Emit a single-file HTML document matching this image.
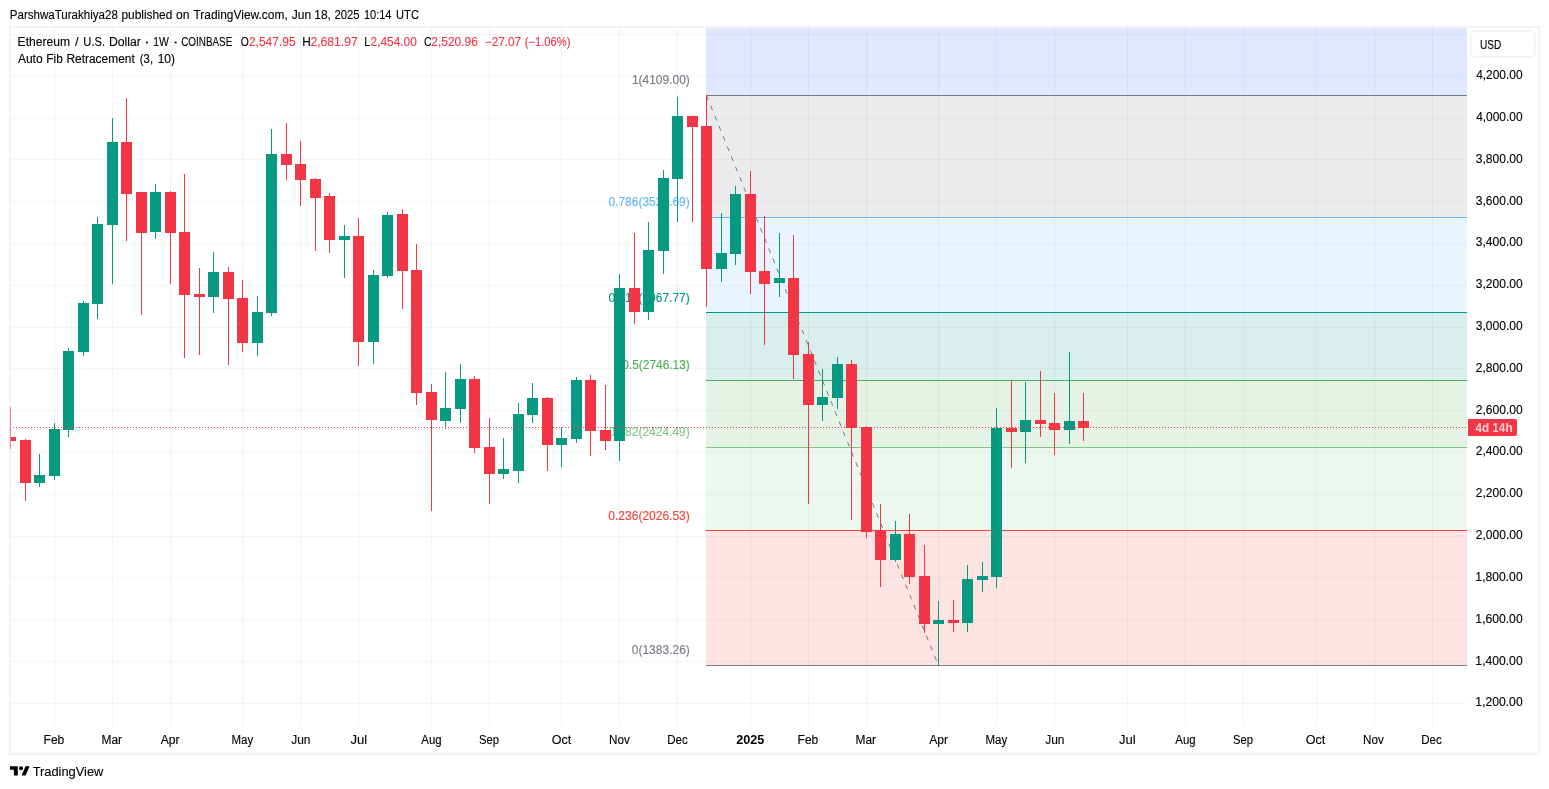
<!DOCTYPE html>
<html lang="en"><head><meta charset="utf-8"><title>ETHUSD chart</title>
<style>html,body{margin:0;padding:0;background:#fff}body{width:1549px;height:789px;overflow:hidden;position:relative}svg{position:absolute;left:0;top:0;display:block}text{font-family:"Liberation Sans", sans-serif;font-size:12px;fill:#000;stroke:#000;stroke-width:0.12px}</style>
</head><body>
<svg width="1549" height="789" viewBox="0 0 1549 789">
<rect x="0" y="0" width="1549" height="789" fill="#fff"/>
<rect x="10" y="27" width="1529" height="727" fill="none" stroke="#f3f3f3" stroke-width="2"/>
<g fill="#000" fill-opacity="0.04" shape-rendering="crispEdges">
<rect x="11" y="34" width="1456" height="1"/>
<rect x="11" y="76" width="1456" height="1"/>
<rect x="11" y="118" width="1456" height="1"/>
<rect x="11" y="159" width="1456" height="1"/>
<rect x="11" y="201" width="1456" height="1"/>
<rect x="11" y="243" width="1456" height="1"/>
<rect x="11" y="285" width="1456" height="1"/>
<rect x="11" y="327" width="1456" height="1"/>
<rect x="11" y="368" width="1456" height="1"/>
<rect x="11" y="410" width="1456" height="1"/>
<rect x="11" y="452" width="1456" height="1"/>
<rect x="11" y="494" width="1456" height="1"/>
<rect x="11" y="536" width="1456" height="1"/>
<rect x="11" y="577" width="1456" height="1"/>
<rect x="11" y="619" width="1456" height="1"/>
<rect x="11" y="661" width="1456" height="1"/>
<rect x="11" y="703" width="1456" height="1"/>
</g>
<g fill="#000" fill-opacity="0.05" shape-rendering="crispEdges">
<rect x="54" y="28" width="1" height="698"/>
<rect x="112" y="28" width="1" height="698"/>
<rect x="170" y="28" width="1" height="698"/>
<rect x="242" y="28" width="1" height="698"/>
<rect x="300" y="28" width="1" height="698"/>
<rect x="358" y="28" width="1" height="698"/>
<rect x="431" y="28" width="1" height="698"/>
<rect x="489" y="28" width="1" height="698"/>
<rect x="561" y="28" width="1" height="698"/>
<rect x="619" y="28" width="1" height="698"/>
<rect x="677" y="28" width="1" height="698"/>
<rect x="750" y="28" width="1" height="698"/>
<rect x="808" y="28" width="1" height="698"/>
<rect x="866" y="28" width="1" height="698"/>
<rect x="938" y="28" width="1" height="698"/>
<rect x="996" y="28" width="1" height="698"/>
<rect x="1054" y="28" width="1" height="698"/>
<rect x="1127" y="28" width="1" height="698"/>
<rect x="1185" y="28" width="1" height="698"/>
<rect x="1243" y="28" width="1" height="698"/>
<rect x="1316" y="28" width="1" height="698"/>
<rect x="1374" y="28" width="1" height="698"/>
<rect x="1432" y="28" width="1" height="698"/>
</g>
<g shape-rendering="crispEdges">
<rect x="706" y="28" width="761" height="67" fill="#2962ff" fill-opacity="0.15"/>
<rect x="706" y="95" width="761" height="122" fill="#787b86" fill-opacity="0.15"/>
<rect x="706" y="217" width="761" height="95" fill="#64b5f6" fill-opacity="0.15"/>
<rect x="706" y="312" width="761" height="68" fill="#009688" fill-opacity="0.15"/>
<rect x="706" y="380" width="761" height="67" fill="#4caf50" fill-opacity="0.15"/>
<rect x="706" y="447" width="761" height="83" fill="#81c784" fill-opacity="0.15"/>
<rect x="706" y="530" width="761" height="135" fill="#f44336" fill-opacity="0.15"/>
<rect x="706" y="95" width="761" height="1" fill="#787b86"/>
<rect x="706" y="217" width="761" height="1" fill="#64b5f6"/>
<rect x="706" y="312" width="761" height="1" fill="#009688"/>
<rect x="706" y="380" width="761" height="1" fill="#4caf50"/>
<rect x="706" y="447" width="761" height="1" fill="#81c784"/>
<rect x="706" y="530" width="761" height="1" fill="#f44336"/>
<rect x="706" y="665" width="761" height="1" fill="#787b86"/>
</g>
<text x="631.90" y="83.8" textLength="57.94" lengthAdjust="spacingAndGlyphs" style="fill:#787b86;stroke:#787b86">1(4109.00)</text>
<text x="608.46" y="205.9" textLength="81.32" lengthAdjust="spacingAndGlyphs" style="fill:#64b5f6;stroke:#64b5f6">0.786(3525.69)</text>
<text x="608.46" y="301.9" textLength="81.32" lengthAdjust="spacingAndGlyphs" style="fill:#009688;stroke:#009688">0.618(3067.77)</text>
<text x="622.26" y="368.8" textLength="67.59" lengthAdjust="spacingAndGlyphs" style="fill:#4caf50;stroke:#4caf50">0.5(2746.13)</text>
<text x="608.46" y="435.9" textLength="81.32" lengthAdjust="spacingAndGlyphs" style="fill:#81c784;stroke:#81c784">0.382(2424.49)</text>
<text x="608.36" y="520.2" textLength="81.42" lengthAdjust="spacingAndGlyphs" style="fill:#f44336;stroke:#f44336">0.236(2026.53)</text>
<text x="631.76" y="653.8" textLength="58.08" lengthAdjust="spacingAndGlyphs" style="fill:#787b86;stroke:#787b86">0(1383.26)</text>
<line x1="706.5" y1="95.5" x2="938.5" y2="665.5" stroke="#787b86" stroke-width="1" stroke-dasharray="5 6"/>
<g shape-rendering="crispEdges">
<rect x="10" y="407" width="1" height="42" fill="#f23645" fill-opacity="0.6"/>
<rect x="11" y="437" width="5" height="4" fill="#f23645"/>
<rect x="25" y="439" width="1" height="62" fill="#f23645"/>
<rect x="20" y="440" width="11" height="43" fill="#f23645"/>
<rect x="39" y="454" width="1" height="33" fill="#089981"/>
<rect x="34" y="475" width="11" height="8" fill="#089981"/>
<rect x="54" y="423" width="1" height="57" fill="#089981"/>
<rect x="49" y="429" width="11" height="47" fill="#089981"/>
<rect x="68" y="348" width="1" height="89" fill="#089981"/>
<rect x="63" y="351" width="11" height="79" fill="#089981"/>
<rect x="83" y="301" width="1" height="55" fill="#089981"/>
<rect x="78" y="303" width="11" height="49" fill="#089981"/>
<rect x="97" y="217" width="1" height="102" fill="#089981"/>
<rect x="92" y="224" width="11" height="80" fill="#089981"/>
<rect x="112" y="118" width="1" height="166" fill="#089981"/>
<rect x="107" y="142" width="11" height="83" fill="#089981"/>
<rect x="126" y="98" width="1" height="143" fill="#f23645"/>
<rect x="121" y="142" width="11" height="52" fill="#f23645"/>
<rect x="141" y="192" width="1" height="123" fill="#f23645"/>
<rect x="136" y="192" width="11" height="41" fill="#f23645"/>
<rect x="155" y="184" width="1" height="55" fill="#089981"/>
<rect x="150" y="192" width="11" height="40" fill="#089981"/>
<rect x="170" y="191" width="1" height="93" fill="#f23645"/>
<rect x="165" y="192" width="11" height="41" fill="#f23645"/>
<rect x="184" y="174" width="1" height="184" fill="#f23645"/>
<rect x="179" y="232" width="11" height="63" fill="#f23645"/>
<rect x="199" y="268" width="1" height="87" fill="#f23645"/>
<rect x="194" y="294" width="11" height="3" fill="#f23645"/>
<rect x="213" y="252" width="1" height="61" fill="#089981"/>
<rect x="208" y="272" width="11" height="25" fill="#089981"/>
<rect x="228" y="267" width="1" height="98" fill="#f23645"/>
<rect x="223" y="272" width="11" height="27" fill="#f23645"/>
<rect x="242" y="280" width="1" height="72" fill="#f23645"/>
<rect x="237" y="298" width="11" height="45" fill="#f23645"/>
<rect x="257" y="296" width="1" height="60" fill="#089981"/>
<rect x="252" y="312" width="11" height="31" fill="#089981"/>
<rect x="271" y="129" width="1" height="187" fill="#089981"/>
<rect x="266" y="154" width="11" height="159" fill="#089981"/>
<rect x="286" y="123" width="1" height="57" fill="#f23645"/>
<rect x="281" y="154" width="11" height="11" fill="#f23645"/>
<rect x="300" y="141" width="1" height="65" fill="#f23645"/>
<rect x="295" y="164" width="11" height="16" fill="#f23645"/>
<rect x="315" y="178" width="1" height="73" fill="#f23645"/>
<rect x="310" y="179" width="11" height="19" fill="#f23645"/>
<rect x="329" y="193" width="1" height="60" fill="#f23645"/>
<rect x="324" y="196" width="11" height="44" fill="#f23645"/>
<rect x="344" y="225" width="1" height="53" fill="#089981"/>
<rect x="339" y="236" width="11" height="4" fill="#089981"/>
<rect x="358" y="218" width="1" height="148" fill="#f23645"/>
<rect x="353" y="236" width="11" height="106" fill="#f23645"/>
<rect x="373" y="270" width="1" height="94" fill="#089981"/>
<rect x="368" y="275" width="11" height="67" fill="#089981"/>
<rect x="387" y="212" width="1" height="66" fill="#089981"/>
<rect x="382" y="215" width="11" height="61" fill="#089981"/>
<rect x="402" y="209" width="1" height="100" fill="#f23645"/>
<rect x="397" y="214" width="11" height="57" fill="#f23645"/>
<rect x="416" y="244" width="1" height="161" fill="#f23645"/>
<rect x="411" y="270" width="11" height="123" fill="#f23645"/>
<rect x="431" y="384" width="1" height="127" fill="#f23645"/>
<rect x="426" y="392" width="11" height="28" fill="#f23645"/>
<rect x="445" y="372" width="1" height="57" fill="#089981"/>
<rect x="440" y="408" width="11" height="13" fill="#089981"/>
<rect x="460" y="364" width="1" height="59" fill="#089981"/>
<rect x="455" y="379" width="11" height="30" fill="#089981"/>
<rect x="474" y="376" width="1" height="77" fill="#f23645"/>
<rect x="469" y="379" width="11" height="69" fill="#f23645"/>
<rect x="489" y="418" width="1" height="86" fill="#f23645"/>
<rect x="484" y="447" width="11" height="27" fill="#f23645"/>
<rect x="503" y="438" width="1" height="41" fill="#089981"/>
<rect x="498" y="469" width="11" height="5" fill="#089981"/>
<rect x="518" y="403" width="1" height="80" fill="#089981"/>
<rect x="513" y="414" width="11" height="57" fill="#089981"/>
<rect x="532" y="383" width="1" height="40" fill="#089981"/>
<rect x="527" y="398" width="11" height="17" fill="#089981"/>
<rect x="547" y="397" width="1" height="74" fill="#f23645"/>
<rect x="542" y="398" width="11" height="47" fill="#f23645"/>
<rect x="561" y="427" width="1" height="40" fill="#089981"/>
<rect x="556" y="438" width="11" height="7" fill="#089981"/>
<rect x="576" y="377" width="1" height="66" fill="#089981"/>
<rect x="571" y="380" width="11" height="59" fill="#089981"/>
<rect x="590" y="375" width="1" height="81" fill="#f23645"/>
<rect x="585" y="380" width="11" height="51" fill="#f23645"/>
<rect x="605" y="385" width="1" height="65" fill="#f23645"/>
<rect x="600" y="430" width="11" height="11" fill="#f23645"/>
<rect x="619" y="274" width="1" height="187" fill="#089981"/>
<rect x="614" y="288" width="11" height="153" fill="#089981"/>
<rect x="634" y="233" width="1" height="91" fill="#f23645"/>
<rect x="629" y="288" width="11" height="24" fill="#f23645"/>
<rect x="648" y="222" width="1" height="98" fill="#089981"/>
<rect x="643" y="250" width="11" height="62" fill="#089981"/>
<rect x="663" y="170" width="1" height="104" fill="#089981"/>
<rect x="658" y="178" width="11" height="73" fill="#089981"/>
<rect x="677" y="97" width="1" height="125" fill="#089981"/>
<rect x="672" y="116" width="11" height="63" fill="#089981"/>
<rect x="692" y="116" width="1" height="106" fill="#f23645"/>
<rect x="687" y="116" width="11" height="11" fill="#f23645"/>
<rect x="706" y="95" width="1" height="212" fill="#f23645"/>
<rect x="701" y="126" width="11" height="143" fill="#f23645"/>
<rect x="721" y="213" width="1" height="69" fill="#089981"/>
<rect x="716" y="253" width="11" height="16" fill="#089981"/>
<rect x="735" y="186" width="1" height="79" fill="#089981"/>
<rect x="730" y="194" width="11" height="60" fill="#089981"/>
<rect x="750" y="171" width="1" height="123" fill="#f23645"/>
<rect x="745" y="194" width="11" height="78" fill="#f23645"/>
<rect x="764" y="216" width="1" height="129" fill="#f23645"/>
<rect x="759" y="271" width="11" height="13" fill="#f23645"/>
<rect x="779" y="233" width="1" height="64" fill="#089981"/>
<rect x="774" y="278" width="11" height="5" fill="#089981"/>
<rect x="793" y="235" width="1" height="144" fill="#f23645"/>
<rect x="788" y="278" width="11" height="77" fill="#f23645"/>
<rect x="808" y="342" width="1" height="162" fill="#f23645"/>
<rect x="803" y="354" width="11" height="51" fill="#f23645"/>
<rect x="822" y="369" width="1" height="52" fill="#089981"/>
<rect x="817" y="397" width="11" height="8" fill="#089981"/>
<rect x="837" y="357" width="1" height="52" fill="#089981"/>
<rect x="832" y="364" width="11" height="34" fill="#089981"/>
<rect x="851" y="360" width="1" height="160" fill="#f23645"/>
<rect x="846" y="364" width="11" height="64" fill="#f23645"/>
<rect x="866" y="426" width="1" height="112" fill="#f23645"/>
<rect x="861" y="427" width="11" height="105" fill="#f23645"/>
<rect x="880" y="504" width="1" height="83" fill="#f23645"/>
<rect x="875" y="530" width="11" height="30" fill="#f23645"/>
<rect x="895" y="521" width="1" height="41" fill="#089981"/>
<rect x="890" y="534" width="11" height="26" fill="#089981"/>
<rect x="909" y="514" width="1" height="70" fill="#f23645"/>
<rect x="904" y="534" width="11" height="43" fill="#f23645"/>
<rect x="924" y="545" width="1" height="88" fill="#f23645"/>
<rect x="919" y="576" width="11" height="48" fill="#f23645"/>
<rect x="938" y="601" width="1" height="64" fill="#089981"/>
<rect x="933" y="620" width="11" height="4" fill="#089981"/>
<rect x="953" y="600" width="1" height="32" fill="#f23645"/>
<rect x="948" y="620" width="11" height="3" fill="#f23645"/>
<rect x="967" y="565" width="1" height="67" fill="#089981"/>
<rect x="962" y="579" width="11" height="44" fill="#089981"/>
<rect x="982" y="562" width="1" height="30" fill="#089981"/>
<rect x="977" y="576" width="11" height="4" fill="#089981"/>
<rect x="996" y="408" width="1" height="180" fill="#089981"/>
<rect x="991" y="428" width="11" height="149" fill="#089981"/>
<rect x="1011" y="381" width="1" height="87" fill="#f23645"/>
<rect x="1006" y="428" width="11" height="4" fill="#f23645"/>
<rect x="1025" y="382" width="1" height="81" fill="#089981"/>
<rect x="1020" y="420" width="11" height="12" fill="#089981"/>
<rect x="1040" y="371" width="1" height="66" fill="#f23645"/>
<rect x="1035" y="420" width="11" height="4" fill="#f23645"/>
<rect x="1054" y="393" width="1" height="62" fill="#f23645"/>
<rect x="1049" y="423" width="11" height="7" fill="#f23645"/>
<rect x="1069" y="352" width="1" height="92" fill="#089981"/>
<rect x="1064" y="421" width="11" height="9" fill="#089981"/>
<rect x="1083" y="393" width="1" height="48" fill="#f23645"/>
<rect x="1078" y="421" width="11" height="7" fill="#f23645"/>
</g>
<line x1="13" y1="427.5" x2="1466" y2="427.5" stroke="#f23645" stroke-width="1" stroke-dasharray="1 2" shape-rendering="crispEdges"/>
<text x="1476.14" y="79.1" textLength="46.50" lengthAdjust="spacingAndGlyphs">4,200.00</text>
<text x="1476.14" y="120.9" textLength="46.50" lengthAdjust="spacingAndGlyphs">4,000.00</text>
<text x="1475.79" y="162.7" textLength="46.85" lengthAdjust="spacingAndGlyphs">3,800.00</text>
<text x="1475.79" y="204.5" textLength="46.85" lengthAdjust="spacingAndGlyphs">3,600.00</text>
<text x="1475.79" y="246.3" textLength="46.85" lengthAdjust="spacingAndGlyphs">3,400.00</text>
<text x="1475.79" y="288.2" textLength="46.85" lengthAdjust="spacingAndGlyphs">3,200.00</text>
<text x="1475.79" y="330.0" textLength="46.85" lengthAdjust="spacingAndGlyphs">3,000.00</text>
<text x="1475.85" y="371.8" textLength="46.80" lengthAdjust="spacingAndGlyphs">2,800.00</text>
<text x="1475.85" y="413.6" textLength="46.80" lengthAdjust="spacingAndGlyphs">2,600.00</text>
<text x="1475.85" y="455.4" textLength="46.80" lengthAdjust="spacingAndGlyphs">2,400.00</text>
<text x="1475.85" y="497.3" textLength="46.80" lengthAdjust="spacingAndGlyphs">2,200.00</text>
<text x="1475.85" y="539.1" textLength="46.80" lengthAdjust="spacingAndGlyphs">2,000.00</text>
<text x="1475.39" y="580.9" textLength="47.26" lengthAdjust="spacingAndGlyphs">1,800.00</text>
<text x="1475.39" y="622.7" textLength="47.26" lengthAdjust="spacingAndGlyphs">1,600.00</text>
<text x="1475.39" y="664.5" textLength="47.26" lengthAdjust="spacingAndGlyphs">1,400.00</text>
<text x="1475.39" y="706.4" textLength="47.26" lengthAdjust="spacingAndGlyphs">1,200.00</text>
<rect x="1471.2" y="31" width="63.7" height="25.9" rx="4.5" fill="#fff" stroke="#f3f3f3" stroke-width="1.7"/>
<text x="1479.92" y="48.8" textLength="21.33" lengthAdjust="spacingAndGlyphs">USD</text>
<path d="M1468 419H1515a2 2 0 0 1 2 2V434a2 2 0 0 1 -2 2H1468Z" fill="#f23645"/>
<text x="1475.42" y="431.9" textLength="37.15" lengthAdjust="spacingAndGlyphs" style="font-weight:bold;fill:#fbd0d5;stroke:none">4d 14h</text>
<text x="43.59" y="743.9" textLength="20.75" lengthAdjust="spacingAndGlyphs">Feb</text>
<text x="101.50" y="743.9" textLength="20.55" lengthAdjust="spacingAndGlyphs">Mar</text>
<text x="160.70" y="743.9" textLength="18.87" lengthAdjust="spacingAndGlyphs">Apr</text>
<text x="231.43" y="743.9" textLength="21.72" lengthAdjust="spacingAndGlyphs">May</text>
<text x="291.16" y="743.9" textLength="19.27" lengthAdjust="spacingAndGlyphs">Jun</text>
<text x="350.47" y="743.9" textLength="16.70" lengthAdjust="spacingAndGlyphs">Jul</text>
<text x="421.31" y="743.9" textLength="20.26" lengthAdjust="spacingAndGlyphs">Aug</text>
<text x="479.01" y="743.9" textLength="20.03" lengthAdjust="spacingAndGlyphs">Sep</text>
<text x="551.75" y="743.9" textLength="19.44" lengthAdjust="spacingAndGlyphs">Oct</text>
<text x="609.07" y="743.9" textLength="20.76" lengthAdjust="spacingAndGlyphs">Nov</text>
<text x="667.28" y="743.9" textLength="20.53" lengthAdjust="spacingAndGlyphs">Dec</text>
<text x="736.15" y="743.9" textLength="28.06" lengthAdjust="spacingAndGlyphs" style="font-weight:bold;stroke:none">2025</text>
<text x="797.59" y="743.9" textLength="20.75" lengthAdjust="spacingAndGlyphs">Feb</text>
<text x="855.50" y="743.9" textLength="20.55" lengthAdjust="spacingAndGlyphs">Mar</text>
<text x="929.20" y="743.9" textLength="18.87" lengthAdjust="spacingAndGlyphs">Apr</text>
<text x="985.43" y="743.9" textLength="21.72" lengthAdjust="spacingAndGlyphs">May</text>
<text x="1045.16" y="743.9" textLength="19.27" lengthAdjust="spacingAndGlyphs">Jun</text>
<text x="1118.97" y="743.9" textLength="16.70" lengthAdjust="spacingAndGlyphs">Jul</text>
<text x="1175.31" y="743.9" textLength="20.26" lengthAdjust="spacingAndGlyphs">Aug</text>
<text x="1233.01" y="743.9" textLength="20.03" lengthAdjust="spacingAndGlyphs">Sep</text>
<text x="1305.75" y="743.9" textLength="19.44" lengthAdjust="spacingAndGlyphs">Oct</text>
<text x="1363.07" y="743.9" textLength="20.76" lengthAdjust="spacingAndGlyphs">Nov</text>
<text x="1421.28" y="743.9" textLength="20.53" lengthAdjust="spacingAndGlyphs">Dec</text>
<text x="9.78" y="19.0" textLength="108.04" lengthAdjust="spacingAndGlyphs">ParshwaTurakhiya28</text>
<text x="121.49" y="19.0" textLength="50.82" lengthAdjust="spacingAndGlyphs">published</text>
<text x="176.12" y="19.0" textLength="13.47" lengthAdjust="spacingAndGlyphs">on</text>
<text x="193.45" y="19.0" textLength="94.30" lengthAdjust="spacingAndGlyphs">TradingView.com,</text>
<text x="291.71" y="19.0" textLength="19.38" lengthAdjust="spacingAndGlyphs">Jun</text>
<text x="314.30" y="19.0" textLength="16.64" lengthAdjust="spacingAndGlyphs">18,</text>
<text x="334.38" y="19.0" textLength="25.19" lengthAdjust="spacingAndGlyphs">2025</text>
<text x="363.88" y="19.0" textLength="27.60" lengthAdjust="spacingAndGlyphs">10:14</text>
<text x="396.05" y="19.0" textLength="22.91" lengthAdjust="spacingAndGlyphs">UTC</text>
<text x="17.59" y="45.9" textLength="52.45" lengthAdjust="spacingAndGlyphs">Ethereum</text>
<text x="74.96" y="45.9" textLength="3.69" lengthAdjust="spacingAndGlyphs">/</text>
<text x="83.35" y="45.9" textLength="21.69" lengthAdjust="spacingAndGlyphs">U.S.</text>
<text x="108.98" y="45.9" textLength="31.92" lengthAdjust="spacingAndGlyphs">Dollar</text>
<text x="143.84" y="45.9" textLength="6.23" lengthAdjust="spacingAndGlyphs">·</text>
<text x="153.23" y="45.9" textLength="15.65" lengthAdjust="spacingAndGlyphs">1W</text>
<text x="172.44" y="45.9" textLength="6.23" lengthAdjust="spacingAndGlyphs">·</text>
<text x="181.24" y="45.9" textLength="51.06" lengthAdjust="spacingAndGlyphs">COINBASE</text>
<text x="240.64" y="45.9" textLength="8.06" lengthAdjust="spacingAndGlyphs">O</text>
<text x="248.95" y="45.9" textLength="46.67" lengthAdjust="spacingAndGlyphs" style="fill:#f23645;stroke:#f23645">2,547.95</text>
<text x="302.21" y="45.9" textLength="8.53" lengthAdjust="spacingAndGlyphs">H</text>
<text x="310.44" y="45.9" textLength="47.29" lengthAdjust="spacingAndGlyphs" style="fill:#f23645;stroke:#f23645">2,681.97</text>
<text x="364.19" y="45.9" textLength="6.00" lengthAdjust="spacingAndGlyphs">L</text>
<text x="370.55" y="45.9" textLength="46.19" lengthAdjust="spacingAndGlyphs" style="fill:#f23645;stroke:#f23645">2,454.00</text>
<text x="424.10" y="45.9" textLength="7.61" lengthAdjust="spacingAndGlyphs">C</text>
<text x="431.35" y="45.9" textLength="46.49" lengthAdjust="spacingAndGlyphs" style="fill:#f23645;stroke:#f23645">2,520.96</text>
<text x="484.75" y="45.9" textLength="36.38" lengthAdjust="spacingAndGlyphs" style="fill:#f23645;stroke:#f23645">−27.07</text>
<text x="524.75" y="45.9" textLength="45.72" lengthAdjust="spacingAndGlyphs" style="fill:#f23645;stroke:#f23645">(−1.06%)</text>
<text x="17.90" y="62.9" textLength="24.75" lengthAdjust="spacingAndGlyphs">Auto</text>
<text x="46.30" y="62.9" textLength="16.52" lengthAdjust="spacingAndGlyphs">Fib</text>
<text x="66.40" y="62.9" textLength="68.42" lengthAdjust="spacingAndGlyphs">Retracement</text>
<text x="139.85" y="62.9" textLength="13.22" lengthAdjust="spacingAndGlyphs">(3,</text>
<text x="157.70" y="62.9" textLength="17.32" lengthAdjust="spacingAndGlyphs">10)</text>
<g fill="#000"><path d="M10 766.2H17.8V775.6H13.9V769.7H10Z"/><circle cx="21" cy="768.2" r="2"/><path d="M25.6 766.2H29.6L25.6 775.6H21.5Z"/></g>
<text x="32.63" y="775.6" textLength="70.73" lengthAdjust="spacingAndGlyphs" style="font-size:13px">TradingView</text>
</svg>
</body></html>
